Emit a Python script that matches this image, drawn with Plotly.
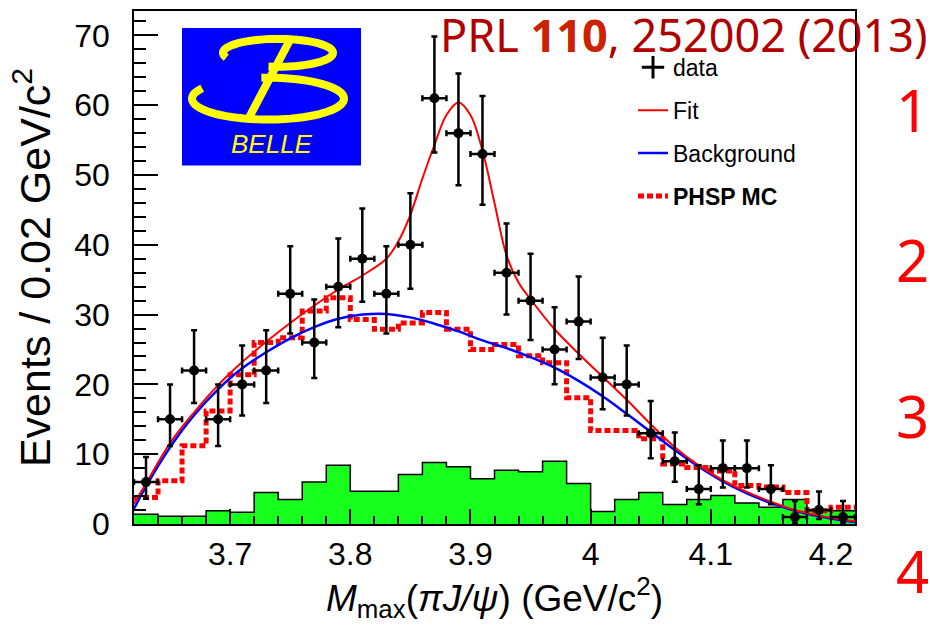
import math
import plotly.graph_objects as go

# ---------------- data ----------------
bin_edges = [3.62, 3.64, 3.66, 3.68, 3.70, 3.72, 3.74, 3.76, 3.78, 3.80,
             3.82, 3.84, 3.86, 3.88, 3.90, 3.92, 3.94, 3.96, 3.98, 4.00,
             4.02, 4.04, 4.06, 4.08, 4.10, 4.12, 4.14, 4.16, 4.18, 4.20, 4.22]
bin_centers = [3.63, 3.65, 3.67, 3.69, 3.71, 3.73, 3.75, 3.77, 3.79, 3.81,
               3.83, 3.85, 3.87, 3.89, 3.91, 3.93, 3.95, 3.97, 3.99, 4.01,
               4.03, 4.05, 4.07, 4.09, 4.11, 4.13, 4.15, 4.17, 4.19, 4.21]
data_counts = [6, 15, 22, 15, 20, 22, 33, 26, 34, 38,
               33, 40, 61, 56, 53, 36, 32, 25, 29, 21,
               20, 13, 9, 5, 8, 8, 5, 1, 2, 1]
data_err_up = [3.60, 4.97, 5.77, 4.97, 5.56, 5.77, 6.81, 6.17, 6.90, 7.22,
               6.81, 7.38, 8.86, 8.53, 8.33, 7.06, 6.72, 6.07, 6.45, 5.67,
               5.56, 4.64, 4.12, 3.40, 3.96, 3.96, 3.40, 2.30, 2.64, 2.30]
data_err_lo = [2.40, 3.84, 4.66, 3.84, 4.44, 4.66, 5.72, 5.07, 5.81, 6.14,
               5.72, 6.30, 7.79, 7.47, 7.26, 5.98, 5.63, 4.97, 5.36, 4.56,
               4.44, 3.57, 2.96, 2.18, 2.78, 2.78, 2.18, 0.83, 1.29, 0.83]

sideband_hist = [1.4, 1.1, 1.1, 1.9, 1.7, 4.5, 3.5, 6.0, 8.4, 4.7,
                 4.7, 7.1, 8.8, 8.2, 6.5, 7.7, 7.5, 9.0, 5.8, 1.8,
                 3.5, 4.5, 2.8, 3.5, 4.1, 3.0, 2.4, 3.5, 1.9, 1.9]

phsp_hist = [3.8, 6.2, 11.2, 16.2, 21.4, 26.0, 26.7, 30.5, 32.4, 29.3,
             27.9, 28.8, 30.3, 27.9, 25.0, 25.7, 24.1, 23.1, 18.1, 13.4,
             13.4, 12.2, 8.6, 8.1, 7.6, 5.5, 5.3, 4.5, 1.9, 2.4]

bkg_x = [3.62, 3.63, 3.65, 3.67, 3.69, 3.71, 3.73, 3.75, 3.77, 3.79, 3.81,
         3.83, 3.85, 3.87, 3.89, 3.91, 3.93, 3.95, 3.97, 3.99, 4.01, 4.03,
         4.05, 4.07, 4.09, 4.11, 4.13, 4.15, 4.17, 4.19, 4.21, 4.22]
bkg_y = [2.2, 5.4, 11.0, 15.6, 19.3, 22.3, 24.6, 26.6, 28.2, 29.4, 30.0,
         30.1, 29.6, 28.7, 27.6, 26.3, 25.2, 23.9, 22.4, 20.5, 18.3, 15.8,
         13.2, 10.6, 8.2, 6.1, 4.4, 3.0, 1.9, 1.1, 0.5, 0.3]

fit_x = [3.62, 3.63, 3.65, 3.67, 3.69, 3.71, 3.73, 3.75, 3.77, 3.79, 3.81,
         3.83, 3.84, 3.85, 3.86, 3.87, 3.88, 3.89, 3.90, 3.91, 3.92, 3.93,
         3.94, 3.95, 3.97, 3.99, 4.01, 4.03, 4.05, 4.07, 4.09, 4.11, 4.13,
         4.15, 4.17, 4.19, 4.21, 4.22]
fit_y = [2.9, 5.8, 11.6, 16.0, 19.9, 23.2, 26.1, 28.8, 31.3, 33.6, 35.6,
         38.0, 40.5, 44.3, 49.5, 54.3, 58.6, 60.4, 58.6, 53.5, 46.0, 38.5,
         34.6, 32.2, 27.9, 24.4, 21.1, 17.8, 14.3, 11.0, 8.4, 6.3, 4.6,
         3.2, 2.0, 1.2, 0.6, 0.4]

x_range = [3.62, 4.22]
y_range = [0, 73.5]

# ---------------- geometry helpers (for decorations only) ----------------
W, H = 931, 625
ML, MR, MT, MB = 134, 76, 9, 101
PW, PH = W - ML - MR, H - MT - MB


def px2x(px):
    return (px - ML) / PW


def py2y(py):
    return (H - MB - py) / PH


def arc_path(cx, cy, rx, ry, t0, t1, n=60):
    pts = []
    for i in range(n + 1):
        t = math.radians(t0 + (t1 - t0) * i / n)
        pts.append((px2x(cx + rx * math.cos(t)), py2y(cy - ry * math.sin(t))))
    return "M " + " L ".join(f"{a:.5f},{b:.5f}" for a, b in pts)


FONT = "Liberation Sans, Arial, Helvetica, sans-serif"

fig = go.Figure()

# sideband histogram (green)
fig.add_trace(go.Scatter(
    x=bin_edges, y=sideband_hist + [sideband_hist[-1]], mode="lines",
    line=dict(shape="hv", color="black", width=1.5),
    fill="tozeroy", fillcolor="#17ff1d", showlegend=False, hoverinfo="skip"))

# PHSP MC
fig.add_trace(go.Scatter(
    x=bin_edges, y=phsp_hist + [phsp_hist[-1]], mode="lines",
    line=dict(shape="hv", color="#ff0000", width=5, dash="6px,3px"),
    name="<b>PHSP MC</b>", legendgroup="d", legendrank=4))

# background
fig.add_trace(go.Scatter(
    x=bkg_x, y=bkg_y, mode="lines",
    line=dict(shape="spline", color="#0000ff", width=2.5),
    name="Background", legendgroup="c", legendrank=3))

# fit
fig.add_trace(go.Scatter(
    x=fit_x, y=fit_y, mode="lines",
    line=dict(shape="spline", color="#ff0000", width=2),
    name="Fit", legendgroup="b", legendrank=2))

# data points
fig.add_trace(go.Scatter(
    x=bin_centers, y=data_counts, mode="markers",
    marker=dict(color="black", size=10),
    error_y=dict(type="data", symmetric=False, array=data_err_up,
                 arrayminus=data_err_lo, color="black", thickness=2.5, width=3),
    error_x=dict(type="constant", value=0.01, color="black", thickness=2.5, width=3),
    showlegend=False))

# legend entry for data
fig.add_trace(go.Scatter(
    x=[None], y=[None], mode="markers",
    marker=dict(symbol="cross-thin", size=16, color="black",
                line=dict(width=3, color="black")),
    name="data", legendgroup="a", legendrank=1))

# ---------------- Belle logo ----------------
shapes = [
    dict(type="rect", xref="paper", yref="paper",
         x0=px2x(182), x1=px2x(361), y0=py2y(164), y1=py2y(26),
         fillcolor="#0000ff", line=dict(width=0), layer="above"),
    dict(type="path", xref="paper", yref="paper",
         path=arc_path(278, 51, 55, 14, 200, -100),
         line=dict(color="#ffff00", width=8), layer="above"),
    dict(type="path", xref="paper", yref="paper",
         path=arc_path(268, 97, 76, 21, 150, 455),
         line=dict(color="#ffff00", width=8), layer="above"),
    dict(type="line", xref="paper", yref="paper",
         x0=px2x(290), y0=py2y(38), x1=px2x(248), y1=py2y(118),
         line=dict(color="#ffff00", width=8), layer="above"),
]

annotations = [
    dict(text="<i>BELLE</i>", xref="paper", yref="paper",
         x=px2x(272), y=py2y(143), xanchor="center", yanchor="middle",
         showarrow=False, font=dict(family=FONT, size=26, color="#ffff00")),
    dict(text='PRL <b><span style="color:#cc2200">110</span></b>, 252002 (2013)',
         xref="paper", yref="paper", x=px2x(930), y=py2y(33),
         xanchor="right", yanchor="middle", showarrow=False,
         font=dict(family="Comic Sans MS, Noto Sans, sans-serif", size=45, color="#b00000")),
]
for lab, yc in zip(["1", "2", "3", "4"], [108, 258, 415, 571]):
    annotations.append(dict(text=lab, xref="paper", yref="paper",
                            x=px2x(912), y=py2y(yc), xanchor="center", yanchor="middle",
                            showarrow=False,
                            font=dict(family="Noto Sans, sans-serif", size=58, color="#ff0000")))

fig.update_layout(
    width=W, height=H,
    margin=dict(l=ML, r=MR, t=MT, b=MB, pad=0),
    paper_bgcolor="white", plot_bgcolor="white",
    shapes=shapes, annotations=annotations,
    legend=dict(x=px2x(633), y=py2y(44), xanchor="left", yanchor="top",
                bgcolor="rgba(0,0,0,0)", traceorder="grouped", tracegroupgap=10,
                font=dict(family=FONT, size=23, color="black")),
    xaxis=dict(
        range=x_range, showgrid=False, zeroline=False,
        showline=True, mirror=True, linecolor="black", linewidth=1.5,
        ticks="inside", ticklen=15, tickwidth=1.5, tickcolor="black",
        tick0=3.7, dtick=0.1, ticklabelstandoff=1,
        tickfont=dict(family=FONT, size=32, color="black"),
        minor=dict(ticks="inside", ticklen=8, tickwidth=1.5, tickcolor="black",
                   tick0=3.62, dtick=0.02, showgrid=False),
        title=dict(text="<i>M</i><sub>max</sub>(<i>πJ/ψ</i>) (GeV/c<sup>2</sup>)",
                   font=dict(family=FONT, size=37, color="black"), standoff=12),
    ),
    yaxis=dict(
        range=y_range, showgrid=False, zeroline=False,
        showline=True, mirror=True, linecolor="black", linewidth=1.5,
        ticks="inside", ticklen=24, tickwidth=1.5, tickcolor="black",
        tick0=0, dtick=10, ticklabelstandoff=16,
        tickfont=dict(family=FONT, size=32, color="black"),
        minor=dict(ticks="inside", ticklen=12, tickwidth=1.5, tickcolor="black",
                   tick0=0, dtick=2, showgrid=False),
        title=dict(text="Events / 0.02 GeV/c<sup>2</sup>",
                   font=dict(family=FONT, size=43, color="black"), standoff=10),
    ),
)

fig.write_html("out.html", config={"displayModeBar": False},
               post_script="document.body.style.margin='0px';")
